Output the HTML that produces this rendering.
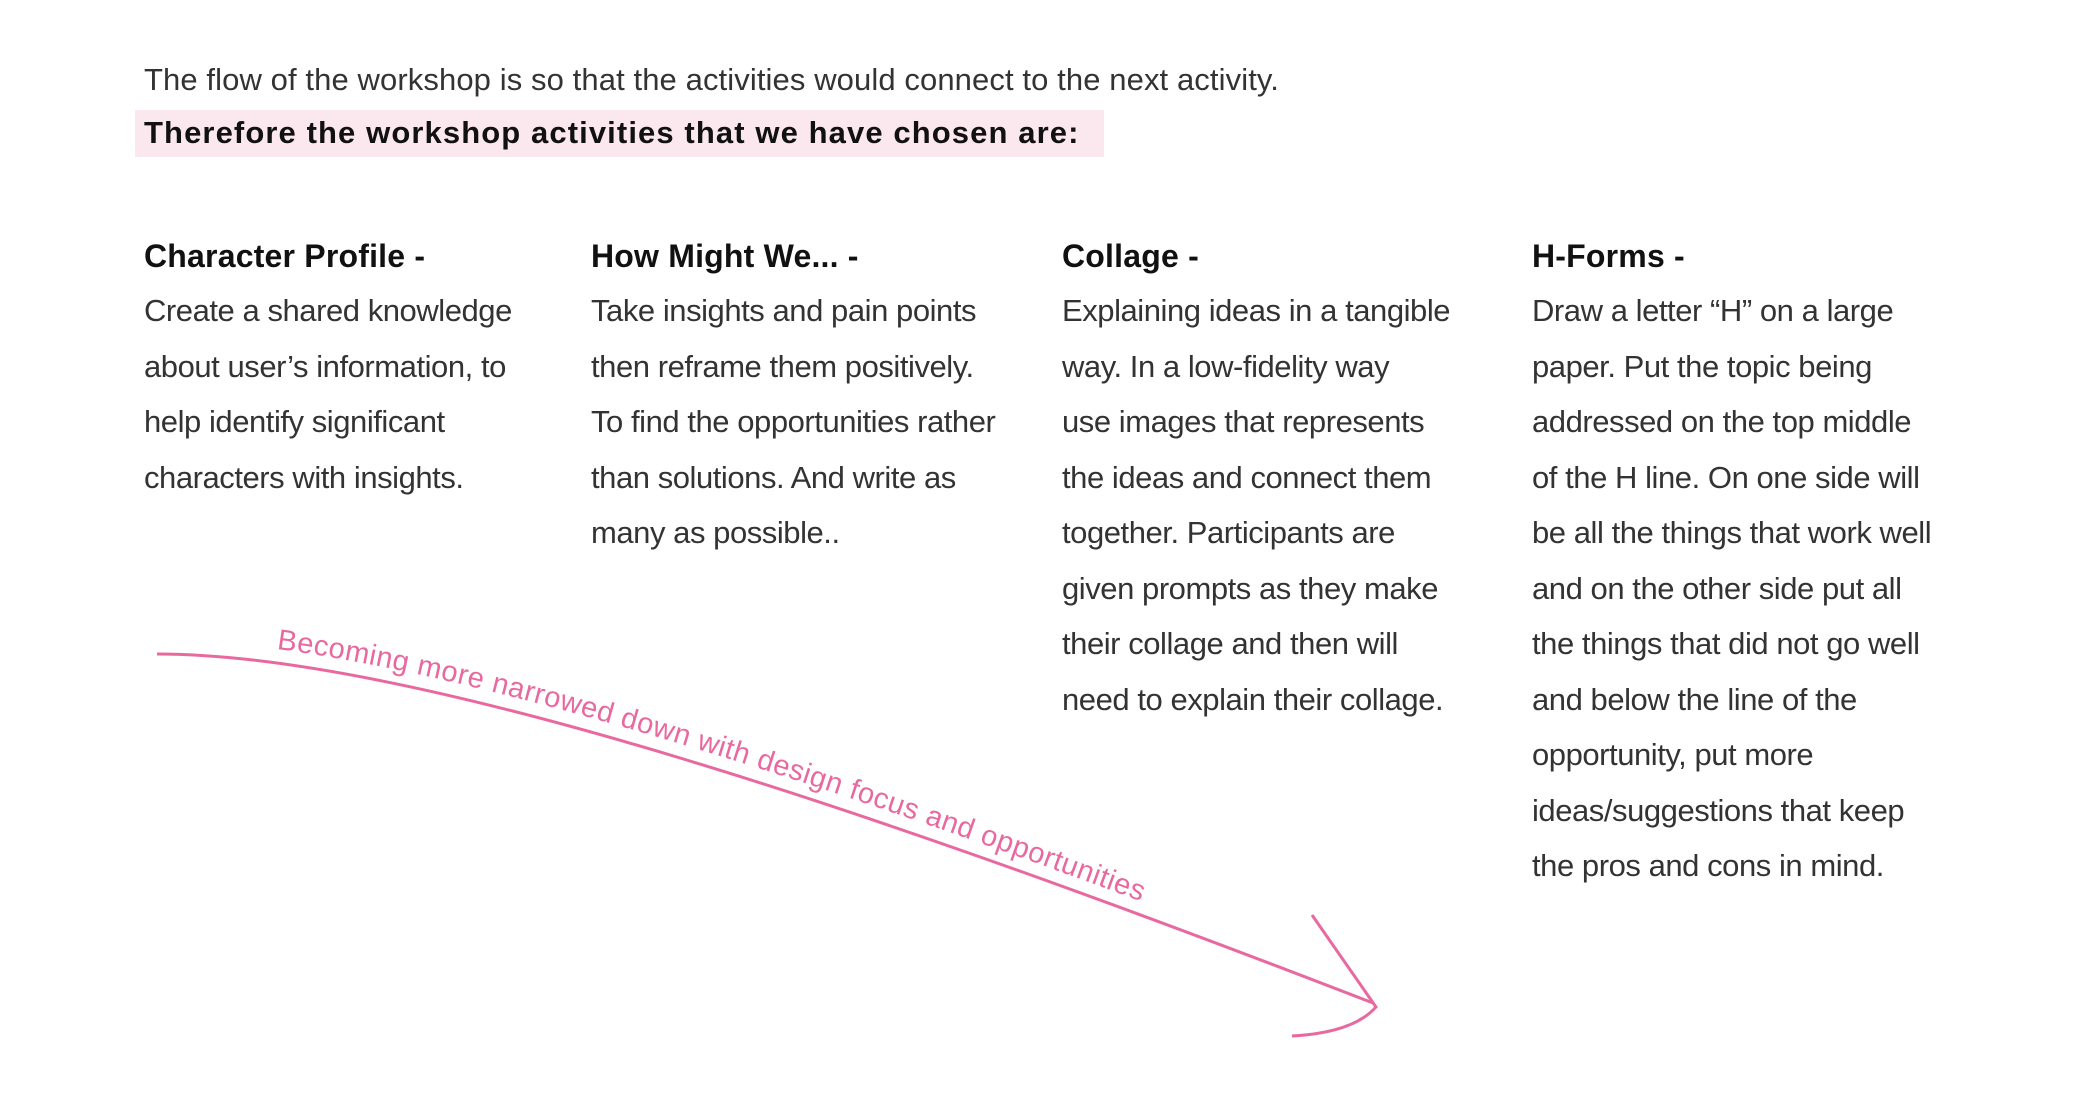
<!DOCTYPE html>
<html><head><meta charset="utf-8"><style>
html,body{margin:0;padding:0;background:#fff;}
body{width:2100px;height:1096px;position:relative;overflow:hidden;font-family:"Liberation Sans",sans-serif;color:#222;}
.t{position:absolute;white-space:nowrap;}
.intro{left:144px;top:62px;font-size:31px;color:#333;letter-spacing:0.1px;}
.hl{position:absolute;left:135px;top:110px;width:969px;height:47px;background:#fbe8ef;}
.bold{left:144px;top:115px;font-size:31px;font-weight:bold;color:#111;letter-spacing:1.1px;}
.col{position:absolute;top:236px;font-size:31px;line-height:55.5px;color:#333;letter-spacing:-0.45px;}
.col h3{margin:0;font-size:32px;font-weight:bold;color:#111;line-height:40px;letter-spacing:0.2px;margin-bottom:7px;}
</style></head><body>
<div class="t intro">The flow of the workshop is so that the activities would connect to the next activity.</div>
<div class="hl"></div>
<div class="t bold">Therefore the workshop activities that we have chosen are:</div>

<div class="col" style="left:144px"><h3>Character Profile -</h3>Create a shared knowledge<br>about user’s information, to<br>help identify significant<br>characters with insights.</div>
<div class="col" style="left:591px"><h3>How Might We... -</h3>Take insights and pain points<br>then reframe them positively.<br>To find the opportunities rather<br>than solutions. And write as<br>many as possible..</div>
<div class="col" style="left:1062px"><h3>Collage -</h3>Explaining ideas in a tangible<br>way. In a low-fidelity way<br>use images that represents<br>the ideas and connect them<br>together. Participants are<br>given prompts as they make<br>their collage and then will<br>need to explain their collage.</div>
<div class="col" style="left:1532px"><h3>H-Forms -</h3>Draw a letter “H” on a large<br>paper. Put the topic being<br>addressed on the top middle<br>of the H line. On one side will<br>be all the things that work well<br>and on the other side put all<br>the things that did not go well<br>and below the line of the<br>opportunity, put more<br>ideas/suggestions that keep<br>the pros and cons in mind.</div>

<svg style="position:absolute;left:0;top:0" width="2100" height="1096">
<defs><path id="tp" d="M157,640 C420,640 900,805 1373,990"/></defs>
<path d="M157,654 C420,654 900,820 1373,1003" fill="none" stroke="#e8699f" stroke-width="3"/>
<path d="M1312,915 L1376,1007 C1360,1025 1330,1034 1292,1036" fill="none" stroke="#e8699f" stroke-width="3"/>
<text font-family="Liberation Sans, sans-serif" font-size="29" fill="#e8699f" letter-spacing="0.5"><textPath href="#tp" startOffset="120">Becoming more narrowed down with design focus and opportunities</textPath></text>
</svg>
</body></html>
